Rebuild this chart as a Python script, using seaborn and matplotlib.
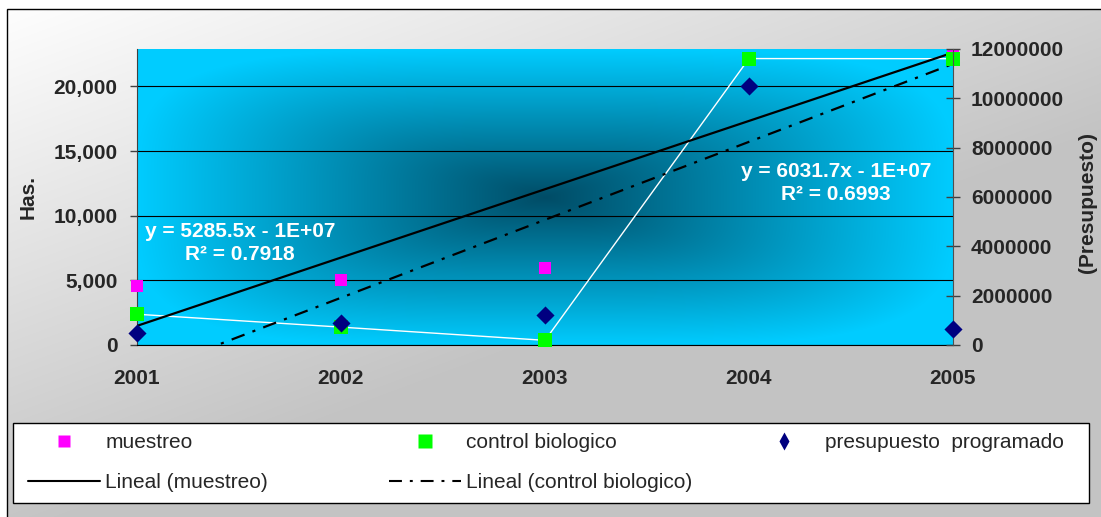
import numpy as np
import pandas as pd
import matplotlib
matplotlib.use("Agg")
import matplotlib.pyplot as plt
from matplotlib.lines import Line2D
from matplotlib.patches import Rectangle
from matplotlib.ticker import FuncFormatter
import seaborn as sns

# ---- data -------------------------------------------------------------
years = [2001, 2002, 2003, 2004, 2005]
muestreo = [4600, 5045, 5962, 22200, 22450]            # Has.
control_biologico = [2380, 1383, 360, 22160, 22150]    # Has.
presupuesto_programado = [500000, 900000, 1200000, 10500000, 640000]

has_ticks = [0, 5000, 10000, 15000, 20000]
presupuesto_ticks = [0, 2000000, 4000000, 6000000, 8000000, 10000000, 12000000]

series_names = ["muestreo", "control biologico", "presupuesto  programado"]
trend_names = ["Lineal (muestreo)", "Lineal (control biologico)"]
left_label = "Has."
right_label = "(Presupuesto)"

# ---- style ------------------------------------------------------------
sns.set_style("white")
plt.rcParams["font.family"] = ["Liberation Sans", "DejaVu Sans"]
plt.rcParams["font.weight"] = "bold"

MAGENTA = "#ff00ff"
GREEN = "#00ff00"
NAVY = "#000080"
DASHDOT = (0, (6.2, 3.8, 1.4, 3.8))

W, H = 1101, 517
fig = plt.figure(figsize=(W / 100, H / 100), dpi=100)

# chart-area background: soft grey gradient inside a thin black frame
bg = fig.add_axes([0, 0, 1, 1], zorder=-10)
yy, xx = np.mgrid[0:H, 0:W]
t = np.clip(0.75 * xx / W + 0.95 * yy / H, 0, 1)
shade = 1.0 - 0.235 * t
img = np.dstack([shade] * 3)
img[(xx < 7) | (yy < 9)] = 1.0
bg.imshow(img, extent=(0, W, H, 0), aspect="auto", interpolation="bilinear")
bg.set_xlim(0, W)
bg.set_ylim(H, 0)
bg.axis("off")
fig.add_artist(Rectangle((7 / W, -0.1), 1.2, 1 - 9 / H + 0.1, transform=fig.transFigure,
                         fill=False, edgecolor="black", lw=1.0))

# plot area
L, R, T, B = 137, 953, 49, 345
rect = [L / W, 1 - B / H, (R - L) / W, (B - T) / H]

# plot-area fill: centre gradient, dark teal in the middle to cyan at the edges
pbg = fig.add_axes(rect, zorder=-5)
ph, pw = B - T, R - L
gy, gx = np.mgrid[0:ph, 0:pw]
dx = np.abs(gx - pw * 0.5) / (pw * 0.5)
dy = np.abs(gy - ph * 0.5) / (ph * 0.5)
tt = np.clip((dx ** 4 + dy ** 4) ** 0.25, 0, 1)[..., None]
dark = np.array([0x00, 0x4c, 0x66]) / 255
cyan = np.array([0x00, 0xcc, 0xff]) / 255
pbg.imshow(dark + (cyan - dark) * tt, aspect="auto", interpolation="bilinear")
pbg.axis("off")

ax = fig.add_axes(rect, zorder=1)
ax.patch.set_visible(False)
ax2 = ax.twinx()
ax2.set_zorder(2)
ax2.patch.set_visible(False)

df = pd.DataFrame({
    "year": years,
    "muestreo": muestreo,
    "control": control_biologico,
    "presupuesto": presupuesto_programado,
})

# thin white connector through the control series
sns.lineplot(data=df, x="year", y="control", color="white", lw=1.0, ax=ax, zorder=2)

# linear trend lines
sns.regplot(data=df, x="year", y="muestreo", ax=ax, scatter=False, ci=None, truncate=True,
            line_kws=dict(color="black", lw=1.6, zorder=3))
sns.regplot(data=df, x="year", y="control", ax=ax, scatter=False, ci=None, truncate=True,
            line_kws=dict(color="black", lw=1.6, ls=DASHDOT, zorder=3))

# markers
sns.scatterplot(data=df, x="year", y="muestreo", marker="s", s=75, color=MAGENTA,
                linewidth=0, ax=ax, zorder=4, clip_on=False)
sns.scatterplot(data=df, x="year", y="control", marker="s", s=110, color=GREEN,
                linewidth=0, ax=ax, zorder=5, clip_on=False)
sns.scatterplot(data=df, x="year", y="presupuesto", marker="D", s=85, color=NAVY,
                linewidth=0, ax=ax2, zorder=5, clip_on=False)


def trend_text(y):
    y = np.asarray(y, dtype=float)
    x = np.asarray(years, dtype=float)
    slope, intercept = np.polyfit(x, y, 1)
    pred = slope * x + intercept
    r2 = 1 - np.sum((y - pred) ** 2) / np.sum((y - y.mean()) ** 2)
    sign = "-" if intercept < 0 else "+"
    return f"y = {slope:.1f}x {sign} {abs(intercept):.0E}\nR² = {r2:.4f}"


ax.text(0.126, 0.345, trend_text(muestreo), transform=ax.transAxes, ha="center", va="center",
        color="white", fontsize=15, fontweight="bold", linespacing=1.3, zorder=6)
ax.text(0.857, 0.547, trend_text(control_biologico), transform=ax.transAxes, ha="center",
        va="center", color="white", fontsize=15, fontweight="bold", linespacing=1.3, zorder=6)

# axes, ticks, grid
ax.set_xlim(years[0], years[-1])
ax.set_xticks(years)
ax.set_ylim(0, 22900)
ax.set_yticks(has_ticks)
ax.yaxis.set_major_formatter(FuncFormatter(lambda v, _: f"{int(v):,}"))
ax.grid(axis="y", color="black", lw=0.8)
ax.grid(axis="x", visible=False)
ax.set_axisbelow(True)
ax.tick_params(axis="x", direction="out", length=5, width=1, pad=12, labelsize=15, color="#404040")
ax.tick_params(axis="y", direction="out", length=5, width=1, pad=9, labelsize=15, color="#404040",
               left=True)
ax.set_xlabel("")
ax.set_ylabel(left_label, fontsize=15, fontweight="bold")
ax.yaxis.set_label_coords(-0.134, 0.5)
ax.yaxis.label.set_verticalalignment("center")

ax2.set_ylim(0, 12000000)
ax2.set_yticks(presupuesto_ticks)
ax2.yaxis.set_major_formatter(FuncFormatter(lambda v, _: f"{int(v)}"))
ax2.tick_params(axis="y", direction="inout", length=10, width=1, pad=8, labelsize=15,
                color="#404040", right=True)
ax2.set_ylabel(right_label, fontsize=15, fontweight="bold", rotation=90)
ax2.yaxis.set_label_coords(1.165, 0.48)
ax2.yaxis.label.set_verticalalignment("center")
ax2.set_xlabel("")

for s in ["top", "right"]:
    ax.spines[s].set_visible(False)
ax.spines["left"].set_color("#404040")
ax.spines["bottom"].set_color("black")
for s in ["top", "left", "bottom"]:
    ax2.spines[s].set_visible(False)
ax2.spines["right"].set_color("#505050")

# legend: white box with three columns
fig.add_artist(Rectangle((13 / W, 1 - 503 / H), (1089 - 13) / W, 80 / H, transform=fig.transFigure,
                         facecolor="white", edgecolor="black", lw=1.0))
h_m = Line2D([], [], ls="none", marker="s", ms=8, mfc=MAGENTA, mec="none")
h_c = Line2D([], [], ls="none", marker="s", ms=10, mfc=GREEN, mec="none")
h_p = Line2D([], [], ls="none", marker="d", ms=9, mfc=NAVY, mec="none")
h_lm = Line2D([], [], color="black", lw=1.5)
h_lc = Line2D([], [], color="black", lw=1.5, ls=DASHDOT)

legend_kw = dict(loc="upper left", frameon=False, borderpad=0, borderaxespad=0,
                 handlelength=3.45, handletextpad=0.25, labelspacing=1.0,
                 prop=dict(size=15, weight="normal"))
fig.legend([h_m, h_lm], [series_names[0], trend_names[0]],
           bbox_to_anchor=(28 / W, 1 - 433 / H), **legend_kw)
fig.legend([h_c, h_lc], [series_names[1], trend_names[1]],
           bbox_to_anchor=(389 / W, 1 - 433 / H), **legend_kw)
fig.legend([h_p], [series_names[2]],
           bbox_to_anchor=(748 / W, 1 - 433 / H), **legend_kw)

fig.savefig("out.png", dpi=100)
